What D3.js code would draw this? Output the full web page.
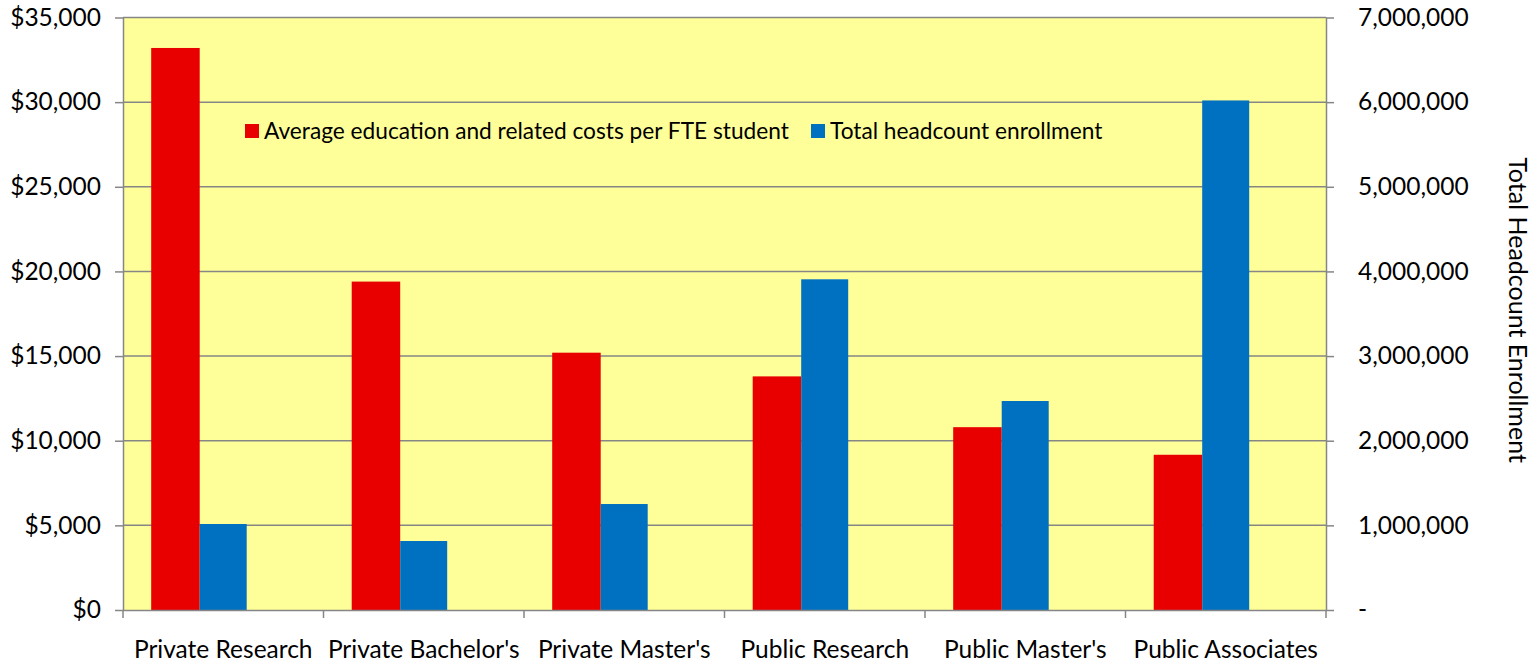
<!DOCTYPE html>
<html><head><meta charset="utf-8">
<script src="https://cdn.jsdelivr.net/npm/d3@7"></script>
<style>body{margin:0;background:#fff;} text{font-family:Lato,"Open Sans",sans-serif;fill:#000;}</style>
</head><body>
<svg id="c" width="1538" height="665"></svg>
<script>
const categories = ["Private Research","Private Bachelor's","Private Master's","Public Research","Public Master's","Public Associates"];
const costs = [33200, 19400, 15200, 13800, 10800, 9170];
const enrollment = [1016000, 815000, 1252000, 3907000, 2469000, 6020000];
const leftTicks = [0,5000,10000,15000,20000,25000,30000,35000];
const rightTicks = [0,1000000,2000000,3000000,4000000,5000000,6000000,7000000];
const seriesNames = ["Average education and related costs per FTE student","Total headcount enrollment"];
const colors = ["#E80000","#0070C0"];

const svg = d3.select("#c");
const L=123, R=1326, T=17.5, B=610;
const x = d3.scaleBand().domain(categories).range([L,R]).padding(0);
const yL = d3.scaleLinear().domain([0,35000]).range([B,T]);
const yR = d3.scaleLinear().domain([0,7000000]).range([B,T]);
const bw = x.bandwidth();
const barW = 48.5, off = 28.2;
const axFont = "24.5px";

svg.append("rect").attr("x",L).attr("y",T).attr("width",R-L).attr("height",B-T).attr("fill","#FFFF99");
svg.append("g").selectAll("line").data(leftTicks.slice(1)).join("line")
  .attr("x1",L).attr("x2",R).attr("y1",d=>yL(d)).attr("y2",d=>yL(d))
  .attr("stroke","#868686").attr("stroke-width",1.5);

svg.append("g").selectAll("rect").data(costs).join("rect")
  .attr("x",(d,i)=>x(categories[i])+off).attr("width",barW)
  .attr("y",d=>yL(d)).attr("height",d=>B-yL(d)).attr("fill",colors[0]);
svg.append("g").selectAll("rect").data(enrollment).join("rect")
  .attr("x",(d,i)=>x(categories[i])+off+barW).attr("width",barW-1.5)
  .attr("y",d=>yR(d)).attr("height",d=>B-yR(d)).attr("fill",colors[1]);

// axes
const gl = svg.append("g").attr("transform",`translate(${L},0)`)
  .call(d3.axisLeft(yL).tickValues(leftTicks).tickSize(8).tickPadding(14).tickFormat(d=>"$"+d3.format(",")(d)));
const gr = svg.append("g").attr("transform",`translate(${R},0)`)
  .call(d3.axisRight(yR).tickValues(rightTicks).tickSize(8).tickPadding(24).tickFormat(d=>d===0?"-":d3.format(",")(d)));
const gb = svg.append("g").attr("transform",`translate(0,${B})`)
  .call(d3.axisBottom(x).tickSize(0).tickPadding(31));
// band boundary ticks
svg.append("g").selectAll("line").data(d3.range(categories.length+1)).join("line")
  .attr("x1",i=>L+i*bw).attr("x2",i=>L+i*bw).attr("y1",B).attr("y2",B+8)
  .attr("stroke","#868686").attr("stroke-width",1.5);
[gl,gr,gb].forEach(g=>{
  g.selectAll("path.domain").attr("stroke","#868686").attr("stroke-width",1.5);
  g.selectAll(".tick line").attr("stroke","#868686").attr("stroke-width",1.5);
  g.selectAll("text").style("font-size",axFont).style("font-family","Lato,'Open Sans',sans-serif").attr("fill","#000");
});
gb.select("path.domain").attr("d",`M${L},0.5H${R}`);
gl.select("path.domain").attr("d",`M0.5,${T}V${B}`);
gr.select("path.domain").attr("d",`M0.5,${T}V${B}`);
gb.selectAll("text").attr("dy","0.71em");

// right axis title
svg.append("text").attr("transform","translate(1509,310) rotate(90)")
  .attr("text-anchor","middle").style("font-size","25px").text("Total Headcount Enrollment");

// legend
const lg = svg.append("g");
const lx = [245, 811];
seriesNames.forEach((n,i)=>{
  lg.append("rect").attr("x",lx[i]).attr("y",124).attr("width",14).attr("height",14).attr("fill",colors[i]);
  lg.append("text").attr("x",lx[i]+19).attr("y",139).style("font-size","22.7px").text(n);
});
</script>
</body></html>
